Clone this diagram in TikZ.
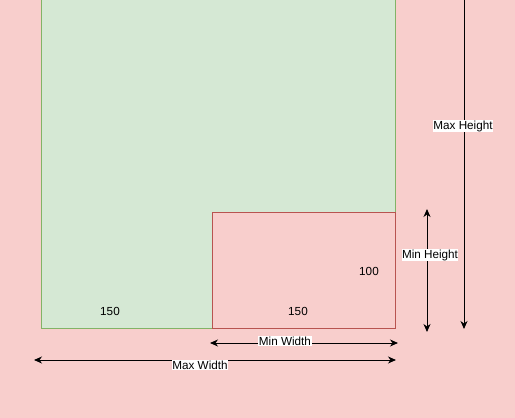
\documentclass[tikz,border=0pt]{standalone}
\usepackage{fontspec}
\setmainfont{Liberation Sans}
\usetikzlibrary{arrows.meta}
\definecolor{bgpink}{HTML}{F8CECC}
\definecolor{redline}{HTML}{B85450}
\definecolor{greenfill}{HTML}{D5E8D4}
\definecolor{greenline}{HTML}{82B366}
\tikzset{
  dim/.style={draw=black, line width=1pt, -{Stealth[length=8pt,width=7pt,inset=2.5pt]}},
  dimtwo/.style={draw=black, line width=1pt, {Stealth[length=8pt,width=7pt,inset=2.5pt]}-{Stealth[length=8pt,width=7pt,inset=2.5pt]}},
  lbl/.style={fill=white, inner sep=0.5pt, font=\fontsize{11.7}{13}\selectfont},
  num/.style={inner sep=0pt, font=\fontsize{11.7}{13}\selectfont},
}
\begin{document}
\begin{tikzpicture}[x=1pt,y=-1pt]
\useasboundingbox (0,0) rectangle (515,418);
\fill[bgpink] (0,0) rectangle (515,418);
\node[draw=greenline, fill=greenfill, line width=1pt, minimum width=354pt, minimum height=338pt, inner sep=0pt, anchor=south west] (outer) at (41,328.5) {};
\node[draw=redline, fill=bgpink, line width=0.8pt, minimum width=183pt, minimum height=116pt, inner sep=0pt, anchor=south west] (inner) at (212,328.5) {};
\node[num] (wl) at (110,311) {150};
\node[num] (wr) at (298,311) {150};
\node[num] (hr) at (369,271) {100};
\coordinate (mh1) at (464,-2);
\coordinate (mh2) at (464,329);
\draw[dim] (mh1) -- (mh2);
\node[lbl] (mhl) at (463,126) {Max Height};
\coordinate (nh1) at (427,209);
\coordinate (nh2) at (427,332);
\draw[dimtwo] (nh1) -- (nh2);
\node[lbl] (nhl) at (430,255) {Min Height};
\coordinate (nw1) at (210,343);
\coordinate (nw2) at (398,343);
\draw[dimtwo] (nw1) -- (nw2);
\node[lbl] (nwl) at (285,341) {Min Width};
\coordinate (xw1) at (34,360);
\coordinate (xw2) at (396,360);
\draw[dimtwo] (xw1) -- (xw2);
\node[lbl] (xwl) at (200,365) {Max Width};
\end{tikzpicture}
\end{document}
